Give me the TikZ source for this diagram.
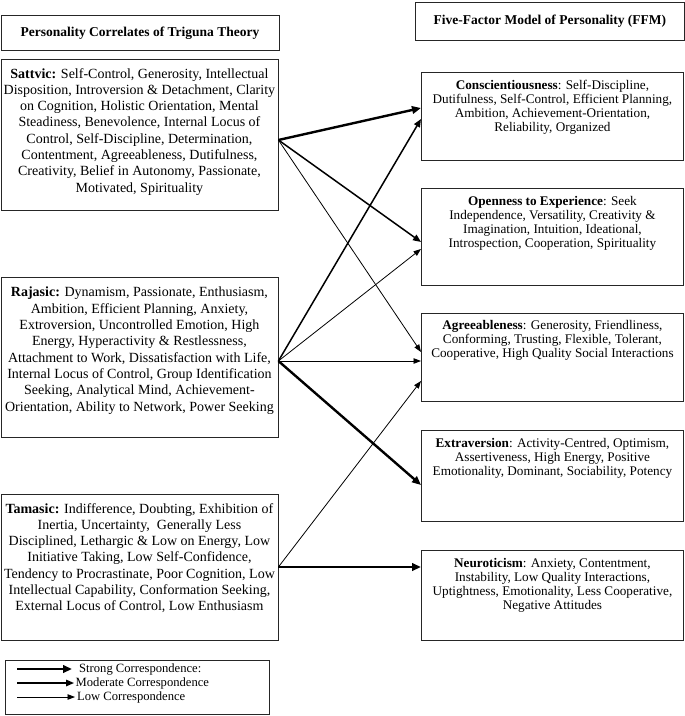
\documentclass[tikz,border=0pt]{standalone}
\usepackage{fontspec}
\setmainfont{Liberation Serif}
\usetikzlibrary{arrows.meta,calc}
\begin{document}
\begin{tikzpicture}[x=1pt,y=-1pt,
  box/.style={draw=black!85, line width=0.9pt, anchor=north west, inner sep=0pt},
  ttl/.style={font=\fontsize{13.5}{15}\selectfont\bfseries},
  ltxt/.style={align=center, font=\fontsize{14}{16.3}\selectfont, inner sep=0pt, anchor=north},
  rtxt/.style={align=center, font=\fontsize{13.2}{14}\selectfont, inner sep=0pt, anchor=north},
  legtxt/.style={anchor=west, font=\fontsize{12.6}{13}\selectfont, inner sep=0pt},
  strongarr/.style={line width=2.4pt, -{Triangle[length=9pt,width=7.5pt]}},
  modarr/.style={line width=1.5pt, -{Triangle[length=8pt,width=6.5pt]}},
  lowarr/.style={line width=0.8pt, -{Triangle[length=7.5pt,width=5.5pt]}},
]
\useasboundingbox (0,0) rectangle (685,716);

% titles
\node[box, minimum width=278pt, minimum height=35pt] (lt) at (0.5,15) {};
\node[ttl] (ltt) at (lt.center) {Personality Correlates of Triguna Theory};
\node[box, minimum width=269pt, minimum height=38pt] (rt) at (415,2) {};
\node[ttl] (rtt) at (rt.center) {Five-Factor Model of Personality (FFM)};

% left boxes
\node[box, minimum width=277pt, minimum height=151pt] (sat) at (0.5,59) {};
\node[ltxt] (satt) at ($(sat.north)+(0,9)$) {\textbf{Sattvic:} Self-Control, Generosity, Intellectual\\
Disposition, Introversion \& Detachment, Clarity\\
on Cognition, Holistic Orientation, Mental\\
Steadiness, Benevolence, Internal Locus of\\
Control, Self-Discipline, Determination,\\
Contentment, Agreeableness, Dutifulness,\\
Creativity, Belief in Autonomy, Passionate,\\
Motivated, Spirituality};

\node[box, minimum width=277pt, minimum height=160pt] (raj) at (0.5,277) {};
\node[ltxt] (rajt) at ($(raj.north)+(0,10)$) {\textbf{Rajasic:} Dynamism, Passionate, Enthusiasm,\\
Ambition, Efficient Planning, Anxiety,\\
Extroversion, Uncontrolled Emotion, High\\
Energy, Hyperactivity \& Restlessness,\\
Attachment to Work, Dissatisfaction with Life,\\
Internal Locus of Control, Group Identification\\
Seeking, Analytical Mind, Achievement-\\
Orientation, Ability to Network, Power Seeking};

\node[box, minimum width=277pt, minimum height=146pt] (tam) at (0.5,494) {};
\node[ltxt] (tamt) at ($(tam.north)+(0,9)$) {\textbf{Tamasic:} Indifference, Doubting, Exhibition of\\
Inertia, Uncertainty,\ \ Generally Less\\
Disciplined, Lethargic \& Low on Energy, Low\\
Initiative Taking, Low Self-Confidence,\\
Tendency to Procrastinate, Poor Cognition, Low\\
Intellectual Capability, Conformation Seeking,\\
External Locus of Control, Low Enthusiasm};

% right boxes
\node[box, minimum width=262pt, minimum height=88pt] (con) at (421,72) {};
\node[rtxt] (cont) at ($(con.north)+(0,8)$) {\textbf{Conscientiousness}: Self-Discipline,\\
Dutifulness, Self-Control, Efficient Planning,\\
Ambition, Achievement-Orientation,\\
Reliability, Organized};

\node[box, minimum width=262pt, minimum height=97pt] (ope) at (421,188) {};
\node[rtxt] (opet) at ($(ope.north)+(0,8)$) {\textbf{Openness to Experience}: Seek\\
Independence, Versatility, Creativity \&\\
Imagination, Intuition, Ideational,\\
Introspection, Cooperation, Spirituality};

\node[box, minimum width=262pt, minimum height=88pt] (agr) at (421,313) {};
\node[rtxt] (agrt) at ($(agr.north)+(0,7)$) {\textbf{Agreeableness}: Generosity, Friendliness,\\
Conforming, Trusting, Flexible, Tolerant,\\
Cooperative, High Quality Social Interactions};

\node[box, minimum width=262pt, minimum height=91pt] (ext) at (421,430) {};
\node[rtxt] (extt) at ($(ext.north)+(0,8)$) {\textbf{Extraversion}: Activity-Centred, Optimism,\\
Assertiveness, High Energy, Positive\\
Emotionality, Dominant, Sociability, Potency};

\node[box, minimum width=262pt, minimum height=90pt] (neu) at (421,550) {};
\node[rtxt] (neut) at ($(neu.north)+(0,8)$) {\textbf{Neuroticism}: Anxiety, Contentment,\\
Instability, Low Quality Interactions,\\
Uptightness, Emotionality, Less Cooperative,\\
Negative Attitudes};

% origins on the right edges of the left boxes
\coordinate (so) at ($(sat.north east)+(0,81)$);
\coordinate (ro) at ($(raj.north east)+(0,84)$);
\coordinate (to) at ($(tam.north east)+(0,73)$);

% connectors
\draw[strongarr] (so) -- ($(con.north west)+(0,36)$);
\draw[modarr] (so) -- ($(ope.north west)+(0,54)$);
\draw[lowarr] (so) -- ($(agr.north west)+(0,39)$);

\draw[modarr] (ro) -- ($(con.north west)+(0,47)$);
\draw[lowarr] (ro) -- ($(ope.north west)+(0,61)$);
\draw[lowarr] (ro) -- (ro -| agr.west);
\draw[strongarr] (ro) -- ($(ext.north west)+(0,55)$);

\draw[lowarr] (to) -- ($(agr.north west)+(0,68)$);
\draw[strongarr] (to) -- (to -| neu.west);

% legend
\node[box, minimum width=264pt, minimum height=54pt] (leg) at (5,660) {};
\coordinate (s1) at (17,669); \coordinate (s2) at (72,669);
\coordinate (m1) at (17,683); \coordinate (m2) at (74,683);
\coordinate (l1) at (17,697); \coordinate (l2) at (75,697);
\draw[strongarr] (s1) -- (s2);
\draw[modarr] (m1) -- (m2);
\draw[lowarr] (l1) -- (l2);
\node[legtxt] (st) at (79,669) {Strong Correspondence:};
\node[legtxt] (mt) at (75.5,683) {Moderate Correspondence};
\node[legtxt] (lw) at (77,697) {Low Correspondence};
\end{tikzpicture}
\end{document}
